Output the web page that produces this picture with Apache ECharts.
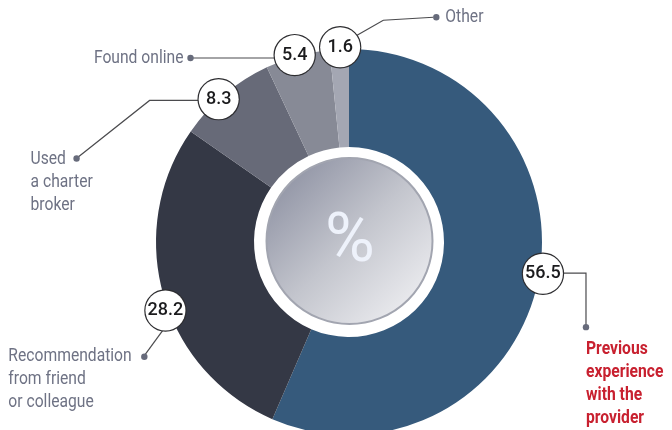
<!DOCTYPE html>
<html><head><meta charset="utf-8">
<script src="https://cdn.jsdelivr.net/npm/echarts@6/dist/echarts.min.js"></script>
<style>html,body{margin:0;padding:0;background:#fff}#c{width:672px;height:430px}</style>
</head><body><div id="c"></div>
<script>
const categories = ['Previous experience with the provider', 'Recommendation from friend or colleague', 'Used a charter broker', 'Found online', 'Other'];
const values = [56.5, 28.2, 8.3, 5.4, 1.6];
const labelTexts = ['Previous\nexperience\nwith the\nprovider', 'Recommendation\nfrom friend\nor colleague', 'Used\na charter\nbroker', 'Found online', 'Other'];
const centerText = '%';

const colors = ['#365a7c', '#343845', '#676a78', '#878a96', '#a4a7b3'];
const FONT = 'Roboto, sans-serif';
const cx = 349, cy = 242, R = 193, R0 = 95;
// small nudges of the value bubbles from the slice mid-angle
const nudges = [[2, -8], [5, 15], [-4, 7], [-2, 2], [1, 1]];

const total = values.reduce((a, b) => a + b, 0);
let acc = 0;
const bubble = values.map((v, i) => {
  const mid = Math.PI / 2 - (acc + v / 2) / total * Math.PI * 2;
  acc += v;
  return [cx + R * Math.cos(mid) + nudges[i][0], cy - R * Math.sin(mid) + nudges[i][1]];
});

// leader layout relative to each bubble: polyline pts, dot, text anchor
const leaders = [
  { pts: [[20, 0], [46, 0], [46, 52]], dot: [46, 54], text: [46, 64.5], align: 'left', color: '#c8202f', weight: 'bold' },
  { pts: [[-5, 20], [-24, 46]], dot: [-24, 47], text: [-160, 35.5], align: 'left' },
  { pts: [[-20, -1], [-71, -1], [-143, 56]], dot: [-144, 57], text: [-190, 46.5], align: 'left' },
  { pts: [[-20, 0], [-104, 0]], dot: [-105, 0], text: [-112, -11.5], align: 'right' },
  { pts: [[15, -14], [43, -30], [93, -33]], dot: [96, -33], text: [105, -44.5], align: 'left' }
];

const graphics = [];
leaders.forEach((L, i) => {
  const [bx, by] = bubble[i];
  graphics.push({ type: 'polyline', z: 1, shape: { points: L.pts.map(p => [bx + p[0], by + p[1]]) }, style: { stroke: '#4b4b4e', lineWidth: 1.2, fill: null } });
  graphics.push({ type: 'circle', z: 1, shape: { cx: bx + L.dot[0], cy: by + L.dot[1], r: 3.2 }, style: { fill: '#676b7b' } });
  graphics.push({ type: 'text', z: 1, x: bx + L.text[0], y: by + L.text[1], scaleX: 0.87, style: { x: 0, y: 0, text: labelTexts[i], fill: L.color || '#6e7284', fontSize: 18, fontWeight: L.weight || 'normal', fontFamily: FONT, lineHeight: 23, align: L.align, verticalAlign: 'top' } });
});
graphics.push({ type: 'circle', z: 10, shape: { cx: cx + 0.5, cy: cy - 1, r: 83 }, style: { fill: new echarts.graphic.LinearGradient(0, 0, 1, 1, [{ offset: 0, color: '#83879a' }, { offset: 0.5, color: '#c3c5cd' }, { offset: 1, color: '#f7f7f9' }]), stroke: '#a2a5b0', lineWidth: 2 } });
graphics.push({ type: 'text', z: 11, x: cx + 1, y: cy + 2, style: { text: centerText, fill: '#eef2fb', fontSize: 68, fontFamily: 'Roboto, sans-serif', fontWeight: 400, align: 'center', verticalAlign: 'middle' } });

const data = categories.map((c, i) => ({ name: c, value: values[i], itemStyle: { color: colors[i] } }));

const chart = echarts.init(document.getElementById('c'));
chart.setOption({
  animation: false,
  graphic: graphics,
  series: [
    { type: 'pie', center: [cx, cy], radius: [R0, R], startAngle: 90, clockwise: true, silent: true, label: { show: false }, labelLine: { show: false }, data: data, z: 2 },
    { type: 'pie', center: [cx, cy], radius: [0, 2 * R], startAngle: 90, clockwise: true, silent: true, z: 3,
      itemStyle: { color: 'rgba(0,0,0,0)' },
      data: categories.map((c, i) => ({ name: c, value: values[i] })),
      labelLine: { show: false },
      labelLayout: p => ({ dx: nudges[p.dataIndex][0], dy: nudges[p.dataIndex][1] }),
      label: { show: true, position: 'inside', formatter: p => p.value.toFixed(1), color: '#1b1b1d', fontSize: 18, fontWeight: 500, fontFamily: FONT, overflow: 'none',
        backgroundColor: '#fff', borderColor: '#2d2d30', borderWidth: 1.2, borderRadius: 21, width: 40, height: 40, lineHeight: 40, align: 'center', verticalAlign: 'middle', padding: 0 } }
  ]
});
</script></body></html>
